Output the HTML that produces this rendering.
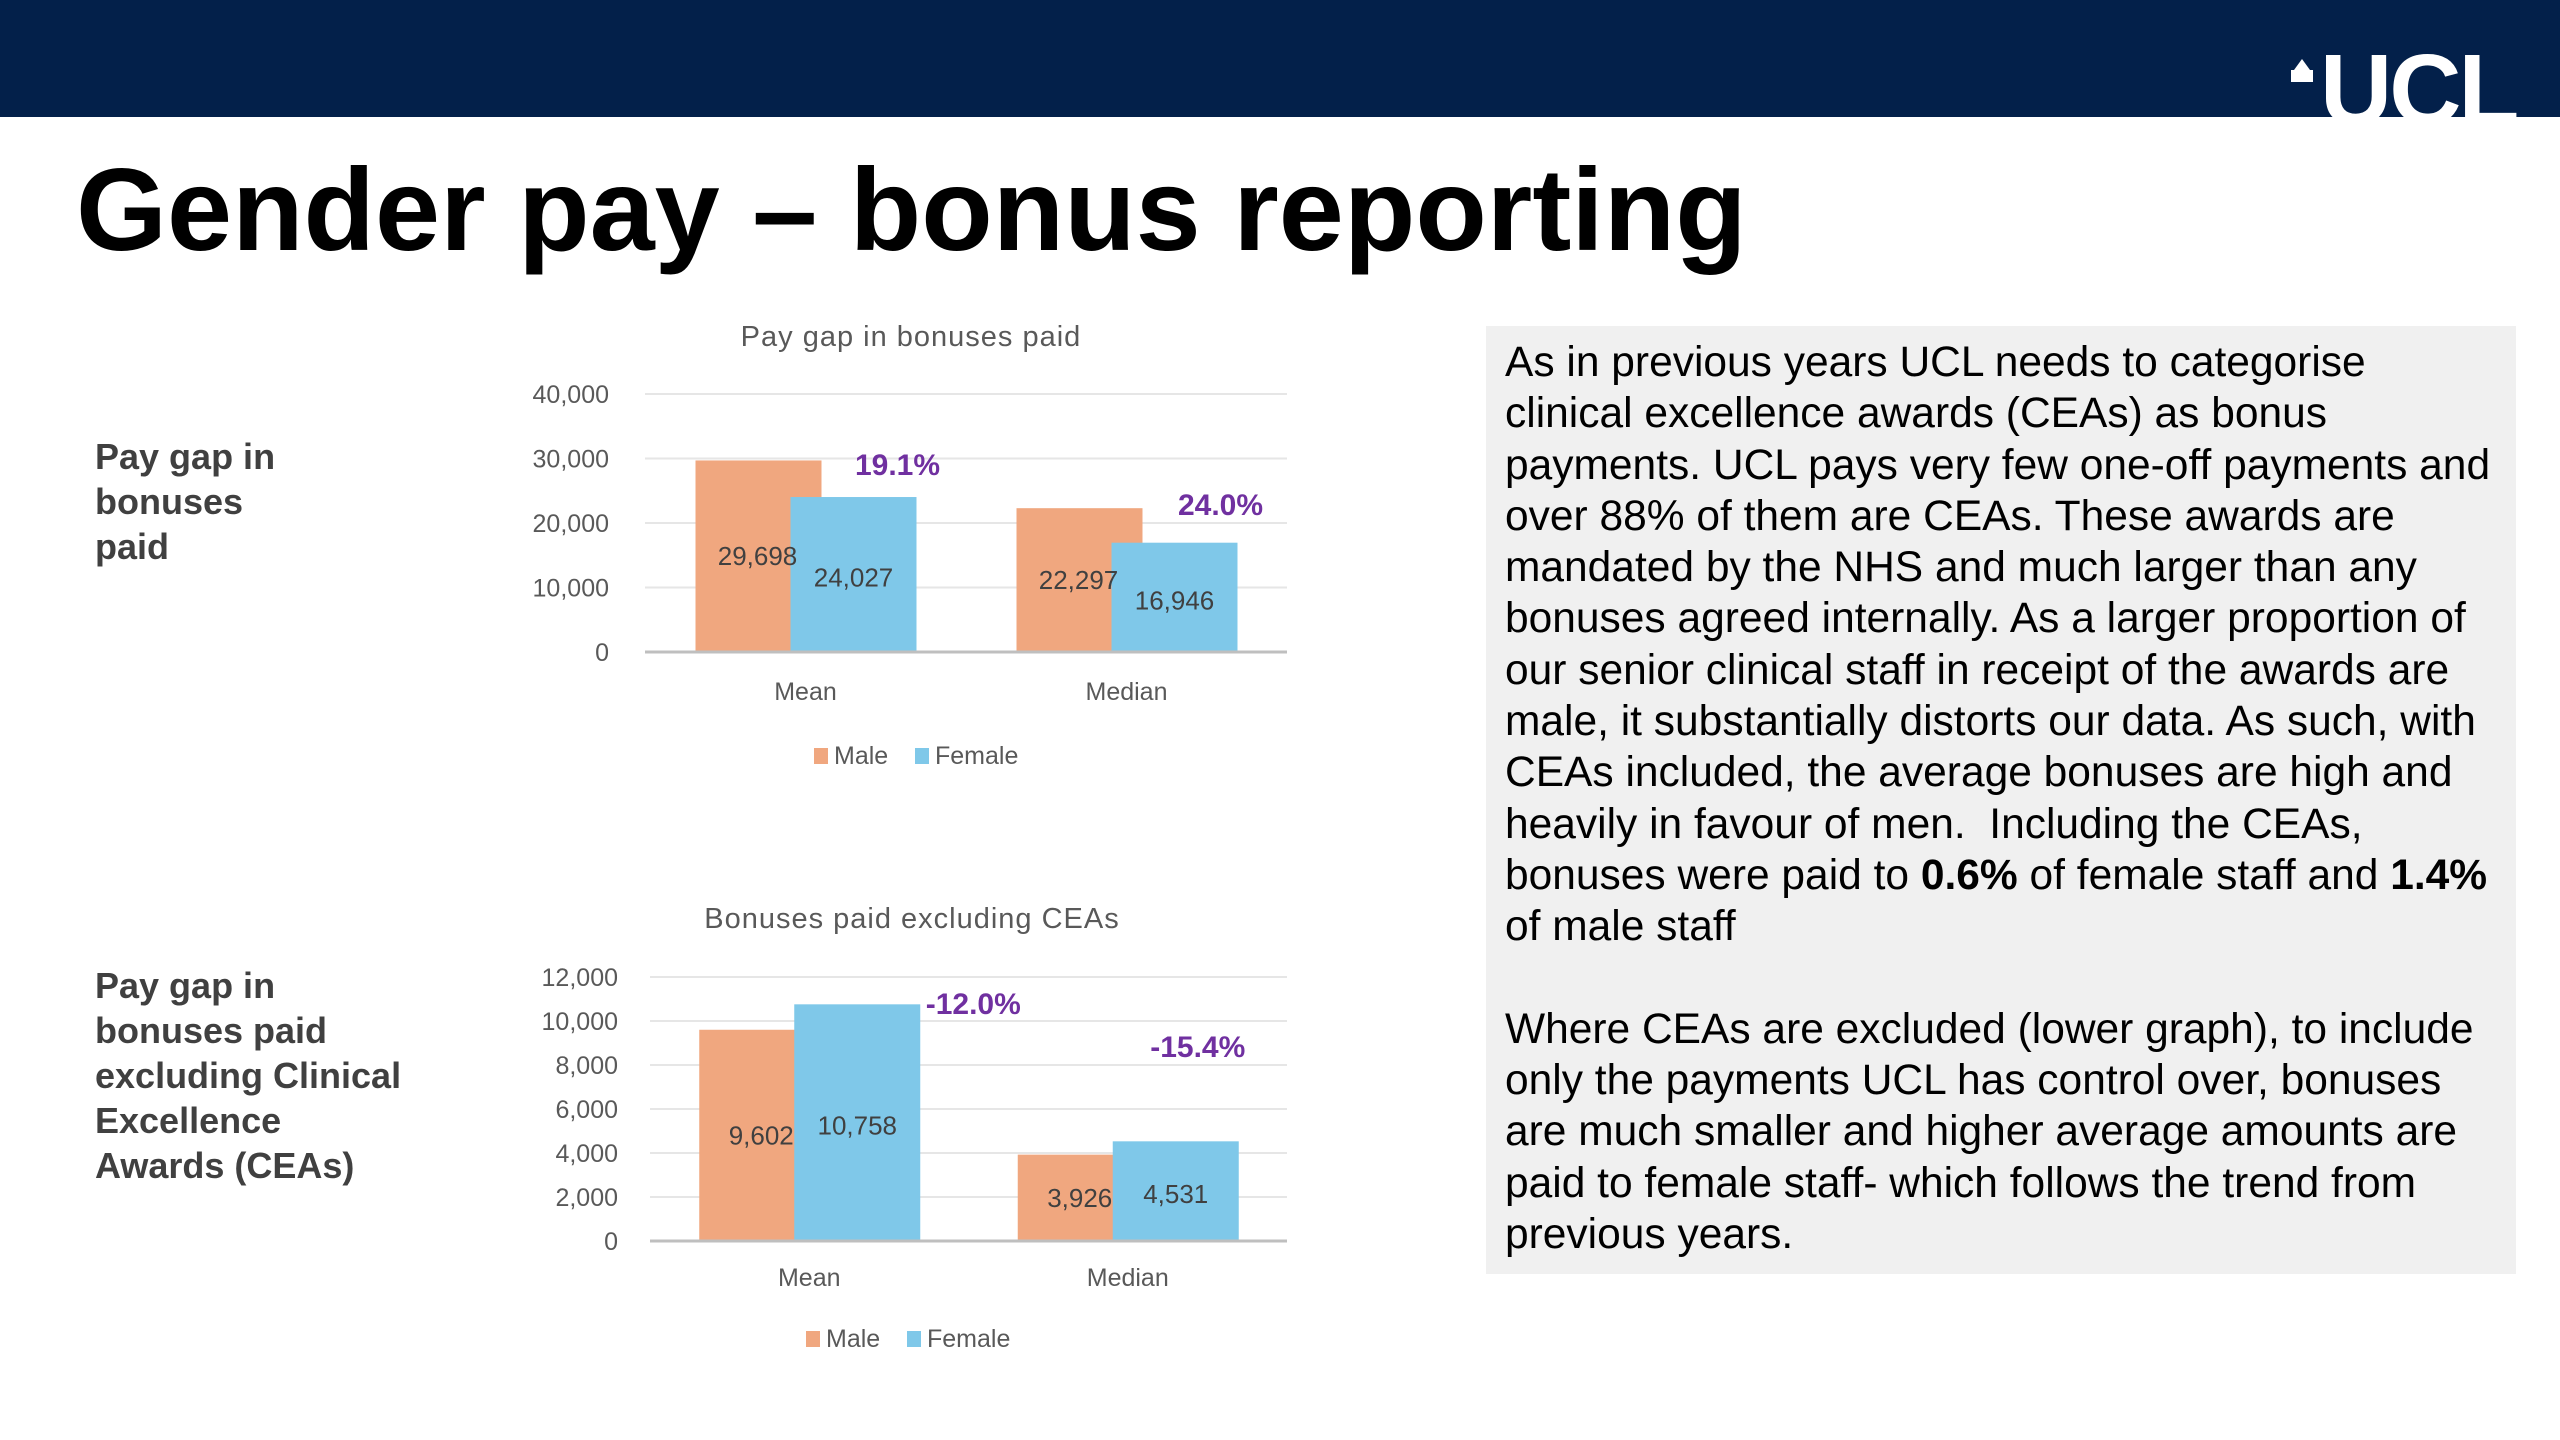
<!DOCTYPE html>
<html><head><meta charset="utf-8"><style>
html,body{margin:0;padding:0;background:#fff;}
body{width:2560px;height:1440px;position:relative;overflow:hidden;font-family:"Liberation Sans",Arial,sans-serif;}
#hdr{position:absolute;left:0;top:0;width:2560px;height:117px;background:#03204a;}
#logo{position:absolute;left:2320px;top:40px;color:#fff;font-weight:bold;font-size:100px;line-height:100px;letter-spacing:-3px;}
#title{position:absolute;left:76px;top:150px;font-size:117px;font-weight:bold;line-height:120px;color:#000;white-space:nowrap;}
.lbl{position:absolute;left:95px;font-size:36px;font-weight:bold;color:#404040;line-height:45px;}
#panel{position:absolute;left:1486px;top:326px;width:1030px;height:948px;background:#f0f0f0;}
#ptext{position:absolute;left:1505px;top:337px;font-size:42.5px;line-height:51.3px;color:#000;white-space:nowrap;}
svg{position:absolute;left:0;top:0;}
</style></head><body>
<div id="hdr"></div>
<div id="logo">UCL</div>
<svg width="2560" height="140">
<rect x="0" y="117" width="2560" height="30" fill="#fff"/>
<polygon points="2294,70 2302,59 2310,70" fill="#fff"/><rect x="2291" y="70" width="22" height="12" fill="#fff"/>
</svg>
<div id="title">Gender pay – bonus reporting</div>
<div class="lbl" style="top:434px">Pay gap in<br>bonuses<br>paid</div>
<div class="lbl" style="top:963px">Pay gap in<br>bonuses paid<br>excluding Clinical<br>Excellence<br>Awards (CEAs)</div>
<div id="panel"></div>
<div id="ptext">As in previous years UCL needs to categorise<br>clinical excellence awards (CEAs) as bonus<br>payments. UCL pays very few one-off payments and<br>over 88% of them are CEAs. These awards are<br>mandated by the NHS and much larger than any<br>bonuses agreed internally. As a larger proportion of<br>our senior clinical staff in receipt of the awards are<br>male, it substantially distorts our data. As such, with<br>CEAs included, the average bonuses are high and<br>heavily in favour of men.&nbsp; Including the CEAs,<br>bonuses were paid to <b>0.6%</b> of female staff and <b>1.4%</b><br>of male staff<br><br>Where CEAs are excluded (lower graph), to include<br>only the payments UCL has control over, bonuses<br>are much smaller and higher average amounts are<br>paid to female staff- which follows the trend from<br>previous years.</div>
<svg id="charts" width="2560" height="1440"></svg>
<script>
const categories = ["Mean","Median"];
const topMale = [29698,22297];
const topFemale = [24027,16946];
const topGap = ["19.1%","24.0%"];
const topTicks = [0,10000,20000,30000,40000];
const botMale = [9602,3926];
const botFemale = [10758,4531];
const botGap = ["-12.0%","-15.4%"];
const botTicks = [0,2000,4000,6000,8000,10000,12000];

const NS="http://www.w3.org/2000/svg";
const svg=document.getElementById('charts');
function mk(tag,attrs,parent){const e=document.createElementNS(NS,tag);for(const k in attrs)e.setAttribute(k,attrs[k]);(parent||svg).appendChild(e);return e;}
function fmt(v){return v.toLocaleString('en-US');}
function chart(cfg){
  const g=mk('g',{});
  
  
  const max=cfg.ticks[cfg.ticks.length-1];
  const y=v=>cfg.y0-(cfg.y0-cfg.yTop)*v/max;
  const bandW=(cfg.x1-cfg.x0)/cfg.cats.length;
  const cx=i=>cfg.x0+bandW*(i+0.5);
  const t=mk('text',{x:cfg.titleX,y:cfg.titleY,'text-anchor':'middle','font-size':29,fill:'#595959','letter-spacing':'1'},g);
  t.textContent=cfg.title;
  
  
  cfg.ticks.forEach(v=>{
    if(v>0){const l=mk('line',{x1:cfg.x0,x2:cfg.x1,y1:y(v),y2:y(v),stroke:'#e6e6e6','stroke-width':2},g);
    
    }
    const tx=mk('text',{x:cfg.tickX,y:y(v)+9,'text-anchor':'end','font-size':25,fill:'#595959'},g);
    tx.textContent=fmt(v);
    
    
  });
  cfg.cats.forEach((c,i)=>{
    const mx=cx(i)-110, fx=mx+95;
    const bm=mk('rect',{x:mx,y:y(cfg.male[i]),width:126,height:cfg.y0-y(cfg.male[i]),fill:'#f0a77f'},g);
    
    
    const bf=mk('rect',{x:fx,y:y(cfg.female[i]),width:126,height:cfg.y0-y(cfg.female[i]),fill:'#7fc8e9'},g);
    
    
    const lm=mk('text',{x:mx+62,y:(y(cfg.male[i])+cfg.y0)/2+9,'text-anchor':'middle','font-size':26,fill:'#404040'},g);
    lm.textContent=fmt(cfg.male[i]);
    
    
    const lf=mk('text',{x:fx+63,y:(y(cfg.female[i])+cfg.y0)/2+12,'text-anchor':'middle','font-size':26,fill:'#404040'},g);
    lf.textContent=fmt(cfg.female[i]);
    
    
    const gp=mk('text',{x:cx(i)+cfg.gapDx[i],y:cfg.gapY[i],'text-anchor':'middle','font-size':30,'font-weight':'bold',fill:'#7030a0'},g);
    gp.textContent=cfg.gap[i];
    
    
    const cl=mk('text',{x:cx(i),y:cfg.catY,'text-anchor':'middle','font-size':25,fill:'#595959'},g);
    cl.textContent=c;
    
    
  });
  const ax=mk('line',{x1:cfg.x0,x2:cfg.x1,y1:cfg.y0,y2:cfg.y0,stroke:'#bfbfbf','stroke-width':3},g);
  
  
  const lx=cfg.legX;
  const s1=mk('rect',{x:lx,y:cfg.legY-16,width:14,height:16,fill:'#f0a77f'},g);
  
  
  const t1=mk('text',{x:lx+20,y:cfg.legY,'font-size':25,fill:'#595959'},g);
  t1.textContent='Male';
  
  
  const s2=mk('rect',{x:lx+101,y:cfg.legY-16,width:14,height:16,fill:'#7fc8e9'},g);
  
  
  const t2=mk('text',{x:lx+121,y:cfg.legY,'font-size':25,fill:'#595959'},g);
  t2.textContent='Female';
  
  
}
chart({name:'chart-bonuses-paid',title:'Pay gap in bonuses paid',cats:categories,male:topMale,female:topFemale,gap:topGap,ticks:topTicks,
  x0:645,x1:1287,y0:652,yTop:394,tickX:609,titleX:911,titleY:346,catY:700,legY:764,legX:814,gapDx:[92,94],gapY:[475,515]});
chart({name:'chart-bonuses-excluding-ceas',title:'Bonuses paid excluding CEAs',cats:categories,male:botMale,female:botFemale,gap:botGap,ticks:botTicks,
  x0:650,x1:1287,y0:1241,yTop:977,tickX:618,titleX:912,titleY:928,catY:1286,legY:1347,legX:806,gapDx:[164,70],gapY:[1014,1057]});
</script>
</body></html>
